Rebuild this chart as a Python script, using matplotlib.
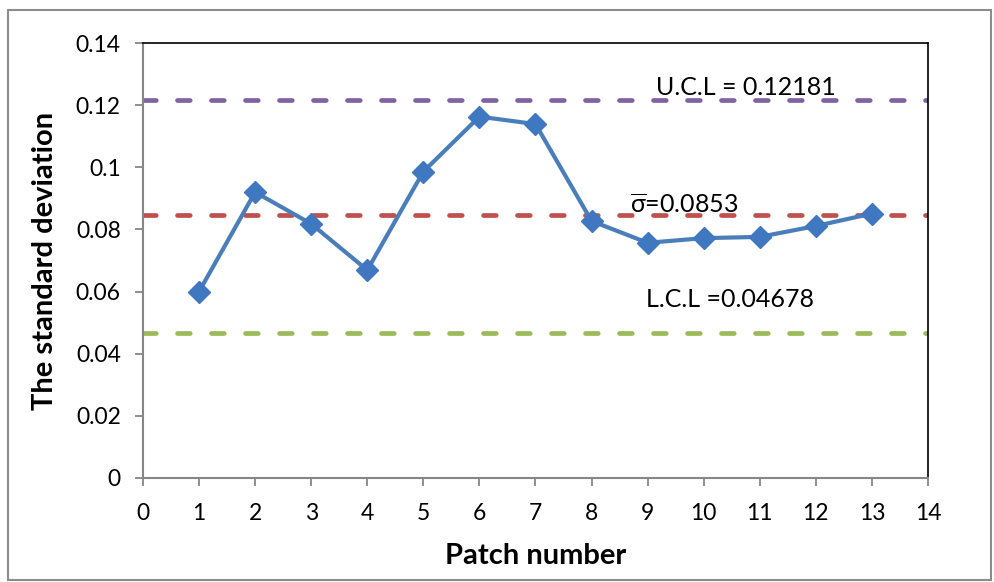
import matplotlib
matplotlib.use('Agg')
import matplotlib.pyplot as plt
from matplotlib.patches import Rectangle

# data
patch = [1, 2, 3, 4, 5, 6, 7, 8, 9, 10, 11, 12, 13]
std_dev = [0.0600, 0.0920, 0.0818, 0.0669, 0.0986, 0.1163, 0.1139,
           0.0827, 0.0757, 0.0772, 0.0776, 0.0811, 0.0851]
ucl = 0.12181
mean_sd = 0.0845
lcl = 0.04678

ucl_label = "U.C.L = 0.12181"
mean_label = r"$\overline{\mathrm{\sigma}}$=0.0853"
lcl_label = "L.C.L =0.04678"

plt.rcParams['font.family'] = ['Lato', 'DejaVu Sans']
plt.rcParams['mathtext.fontset'] = 'custom'
plt.rcParams['mathtext.rm'] = 'Lato'

fig = plt.figure(figsize=(9.95, 5.82), dpi=100)
ax = fig.add_axes([143 / 995, 1 - 478 / 582, (928 - 143) / 995, (478 - 43) / 582])

# outer chart frame
fig.patches.append(Rectangle((8 / 995, 2 / 582), 983 / 995, 570 / 582,
                             transform=fig.transFigure, fill=False,
                             edgecolor='#8c8c8c', linewidth=1.5))

dash = (2.7, 4.5)
for val, col in [(ucl, '#8064a2'), (mean_sd, '#c0504d'), (lcl, '#9bbb59')]:
    ax.axhline(val, color=col, linewidth=3.4, linestyle=(0, dash),
               dash_capstyle='round', zorder=2)

ax.plot(patch, std_dev, color='#4a7ebb', linewidth=3, marker='D',
        markersize=11, markerfacecolor='#3f78c0', markeredgecolor='#3f78c0',
        zorder=3)

ax.text(10.75, 0.1256, ucl_label, fontsize=18, ha='center', va='center')
ax.text(9.65, 0.0879, mean_label, fontsize=18, ha='center', va='center')
ax.text(10.47, 0.0573, lcl_label, fontsize=18, ha='center', va='center')

ax.set_xlim(0, 14)
ax.set_ylim(0, 0.14)
ax.set_xticks(range(0, 15))
ax.set_yticks([0, 0.02, 0.04, 0.06, 0.08, 0.1, 0.12, 0.14])
ax.set_yticklabels(['0', '0.02', '0.04', '0.06', '0.08', '0.1', '0.12', '0.14'])

for s in ['left', 'bottom']:
    ax.spines[s].set_color('#868686')
    ax.spines[s].set_linewidth(1.5)
for s in ['top', 'right']:
    ax.spines[s].set_color('black')
    ax.spines[s].set_linewidth(1.2)
ax.tick_params(axis='both', direction='out', length=6, width=1.3,
               color='#868686', labelsize=16.5)
ax.tick_params(axis='x', pad=12)
ax.tick_params(axis='y', pad=10)

ax.set_xlabel("Patch number", fontsize=21, fontweight='bold', va='center')
ax.set_ylabel("The standard deviation", fontsize=21, fontweight='bold', va='center')
ax.xaxis.set_label_coords(0.5, (478 - 556) / 435)
ax.yaxis.set_label_coords((45 - 143) / 785, 0.5)

fig.savefig("out.png", dpi=100)
